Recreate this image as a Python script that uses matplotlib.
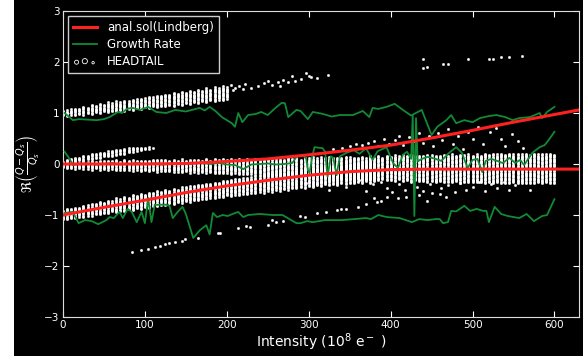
import numpy as np
import matplotlib
matplotlib.use('Agg')
import matplotlib.pyplot as plt

# analytic solution (Lindberg)
lind_x = [0, 50, 100, 150, 200, 250, 300, 350, 400, 450, 500, 550, 600, 630]
lind_mode0 = [0.0, 0.0, 0.0, 0.01, 0.05, 0.1, 0.18, 0.27, 0.37, 0.51, 0.66, 0.82, 0.97, 1.06]
lind_mode1 = [-1.0, -0.85, -0.71, -0.56, -0.43, -0.32, -0.22, -0.15, -0.11, -0.1, -0.1, -0.1, -0.1, -0.1]

# growth rate curves
gr_up_x = [2, 12, 20, 30, 41, 50, 57, 67, 72, 78, 85, 94, 104, 114, 126, 137, 150, 167, 173, 179,
           186, 194, 200, 206, 210, 214, 219, 226, 235, 242, 250, 258, 267, 271, 275, 285, 290, 299,
           305, 315, 322, 328, 338, 354, 366, 374, 378, 385, 395, 405, 415, 425, 438, 450, 457, 468,
           474, 480, 490, 500, 509, 520, 529, 540, 549, 557, 570, 582, 585, 591, 600]
gr_up_y = [1.0, 0.86, 0.88, 0.87, 0.86, 0.88, 0.92, 1.02, 1.0, 1.08, 1.1, 1.06, 1.12, 1.02, 1.0, 1.06,
           1.03, 1.1, 1.05, 1.12, 1.04, 0.92, 0.86, 0.8, 0.73, 1.0, 0.82, 0.96, 0.98, 1.02, 0.96, 1.08,
           1.2, 1.19, 0.92, 1.06, 1.04, 0.88, 1.02, 0.99, 0.96, 0.93, 0.96, 0.96, 1.04, 0.92, 1.1, 1.08,
           1.12, 1.18, 1.06, 0.95, 1.06, 0.57, 0.73, 0.86, 0.96, 0.8, 0.86, 0.82, 0.9, 0.94, 0.96, 0.92,
           0.86, 0.9, 0.92, 1.0, 0.9, 1.02, 1.12]

gr_mid_x = [2, 8, 12, 20, 30, 40, 50, 60, 70, 80, 90, 100, 110, 120, 130, 140, 150, 160, 167, 180,
            190, 200, 210, 220, 230, 240, 250, 260, 270, 280, 285, 293, 297, 299, 301, 304, 307, 317,
            320, 323, 327, 330, 334, 338, 346, 355, 362, 370, 378, 384, 395, 403, 409, 415, 420, 425,
            427, 429, 431, 433, 438, 445, 455, 462, 470, 480, 487, 494, 500, 506, 512, 516, 523, 530,
            537, 545, 552, 558, 563, 573, 582, 588, 592, 600]
gr_mid_y = [0.24, 0.1, -0.02, 0.0, 0.01, -0.01, 0.0, 0.02, -0.01, 0.0, 0.02, 0.0, 0.01, -0.01, 0.0,
            0.01, 0.0, 0.01, 0.02, 0.0, 0.02, -0.01, -0.02, -0.1, -0.01, 0.0, 0.01, -0.01, 0.0, 0.02,
            0.14, 0.18, 0.1, -0.12, -0.18, 0.12, 0.33, 0.31, 0.24, -0.25, 0.15, 0.12, -0.22, 0.15, 0.22,
            0.27, 0.2, 0.31, 0.08, 0.25, 0.33, 0.02, -0.08, 0.18, 0.24, 0.1, 0.95, -1.02, 0.9, 0.05, 0.1,
            0.14, 0.1, 0.06, 0.2, 0.33, 0.22, -0.08, 0.08, 0.1, -0.16, 0.06, 0.1, 0.06, 0.02, 0.12, 0.02,
            0.08, -0.02, 0.22, 0.33, 0.37, 0.45, 0.63]

gr_low_x = [2, 12, 19, 27, 35, 43, 53, 57, 62, 69, 73, 79, 84, 90, 96, 100, 104, 108, 112, 120, 126,
            130, 134, 140, 146, 150, 159, 167, 175, 179, 183, 188, 195, 201, 207, 214, 220, 226, 240,
            256, 268, 285, 290, 298, 305, 320, 340, 356, 370, 376, 385, 395, 411, 426, 435, 445, 455,
            460, 464, 470, 474, 480, 490, 497, 505, 513, 517, 520, 527, 535, 543, 557, 566, 575, 585,
            591, 600]
gr_low_y = [-0.96, -0.94, -1.16, -1.1, -1.12, -1.18, -1.1, -1.04, -1.06, -0.94, -1.06, -0.88, -0.94,
            -1.14, -0.94, -1.16, -0.67, -1.14, -0.8, -0.8, -0.8, -0.82, -1.06, -0.94, -0.84, -0.98,
            -1.45, -1.3, -1.2, -1.38, -0.96, -1.04, -1.0, -1.02, -0.98, -0.94, -1.04, -1.0, -0.98, -1.0,
            -1.0, -1.16, -1.16, -1.12, -1.14, -1.1, -1.1, -1.08, -1.06, -1.08, -1.0, -1.04, -1.06, -1.14,
            -1.08, -1.1, -1.08, -1.08, -1.16, -1.14, -0.92, -0.93, -0.82, -0.92, -0.88, -0.92, -0.92,
            -1.14, -0.84, -0.98, -1.02, -1.06, -0.98, -1.12, -1.02, -1.0, -0.69]

# HEADTAIL tunes: dense columns (centre and half height per intensity step)
mid_x = list(range(0, 601, 5))
mid_c = [-0.01, -0.01, -0.02, -0.01, -0.02, -0.01, -0.02, -0.02, -0.01, -0.02, -0.02, -0.02, -0.01,
         -0.02, -0.03, -0.02, -0.02, -0.03, -0.02, -0.03, -0.03,
         -0.03, -0.02, -0.03, -0.03, -0.02, -0.03, -0.03, -0.04, -0.03, -0.03, -0.04, -0.03, -0.04,
         -0.04, -0.03, -0.04, -0.04, -0.05, -0.04, -0.04,
         -0.05, -0.04, -0.05, -0.05, -0.04, -0.05, -0.05, -0.06, -0.05, -0.05, -0.06, -0.05, -0.06,
         -0.06, -0.05, -0.06, -0.06, -0.07, -0.06, -0.06,
         -0.07, -0.06, -0.07, -0.07, -0.06, -0.07, -0.07, -0.08, -0.07, -0.07, -0.08, -0.07, -0.08,
         -0.08, -0.07, -0.08, -0.08, -0.08, -0.07, -0.08,
         -0.08, -0.07, -0.08, -0.08, -0.07, -0.08, -0.08, -0.09, -0.08, -0.08, -0.09, -0.08, -0.08,
         -0.09, -0.08, -0.08, -0.09, -0.08, -0.08, -0.09,
         -0.08, -0.09, -0.08, -0.08, -0.09, -0.08, -0.08, -0.09, -0.08, -0.08, -0.09, -0.08, -0.08,
         -0.09, -0.08, -0.08, -0.09, -0.08, -0.08, -0.09]
mid_hw = [0.05, 0.07, 0.06, 0.08, 0.06, 0.08, 0.07, 0.09, 0.07, 0.09, 0.08, 0.09, 0.08, 0.10, 0.08,
          0.10, 0.09, 0.10, 0.09, 0.11, 0.09,
          0.11, 0.10, 0.12, 0.10, 0.12, 0.11, 0.12, 0.11, 0.13, 0.11, 0.13, 0.12, 0.13, 0.12, 0.14,
          0.12, 0.14, 0.13, 0.14, 0.13,
          0.15, 0.13, 0.15, 0.14, 0.16, 0.14, 0.16, 0.15, 0.17, 0.15, 0.17, 0.16, 0.18, 0.16, 0.18,
          0.17, 0.19, 0.17, 0.19, 0.18,
          0.20, 0.18, 0.20, 0.19, 0.21, 0.19, 0.21, 0.20, 0.22, 0.20, 0.22, 0.21, 0.23, 0.21, 0.23,
          0.22, 0.24, 0.22, 0.24, 0.23,
          0.25, 0.23, 0.25, 0.24, 0.26, 0.24, 0.26, 0.25, 0.27, 0.25, 0.27, 0.26, 0.27, 0.26, 0.28,
          0.26, 0.28, 0.27, 0.28, 0.27,
          0.28, 0.27, 0.29, 0.27, 0.29, 0.28, 0.29, 0.28, 0.29, 0.28, 0.29, 0.28, 0.29, 0.28, 0.29,
          0.28, 0.29, 0.28, 0.29, 0.28]

low_x = list(range(0, 381, 5))
low_c = [-1.00, -0.98, -0.97, -0.95, -0.94, -0.92, -0.91, -0.89, -0.88, -0.86, -0.85, -0.84, -0.82,
         -0.81, -0.80, -0.78, -0.77, -0.76, -0.74, -0.73, -0.72,
         -0.71, -0.69, -0.68, -0.67, -0.65, -0.64, -0.63, -0.62, -0.60, -0.59, -0.58, -0.57, -0.55,
         -0.54, -0.53, -0.52, -0.51, -0.50, -0.48, -0.47,
         -0.46, -0.45, -0.44, -0.43, -0.42, -0.41, -0.40, -0.39, -0.38, -0.37, -0.36, -0.35, -0.34,
         -0.33, -0.32, -0.31, -0.30, -0.29, -0.28, -0.27,
         -0.26, -0.25, -0.24, -0.23, -0.22, -0.22, -0.21, -0.20, -0.19, -0.19, -0.18, -0.17, -0.17,
         -0.16, -0.16, -0.15]
low_hw = [0.08, 0.10, 0.09, 0.11, 0.09, 0.12, 0.10, 0.12, 0.10, 0.13, 0.11, 0.13, 0.11, 0.14, 0.12,
          0.14, 0.12, 0.15, 0.13, 0.15, 0.13,
          0.15, 0.13, 0.15, 0.13, 0.15, 0.13, 0.16, 0.13, 0.16, 0.14, 0.16, 0.14, 0.16, 0.14, 0.16,
          0.14, 0.16, 0.14, 0.17, 0.14,
          0.17, 0.15, 0.17, 0.15, 0.17, 0.15, 0.17, 0.15, 0.18, 0.15, 0.18, 0.15, 0.18, 0.16, 0.18,
          0.16, 0.18, 0.16, 0.19, 0.16,
          0.19, 0.17, 0.19, 0.17, 0.19, 0.17, 0.20, 0.17, 0.20, 0.18, 0.20, 0.18, 0.20, 0.18, 0.21,
          0.18]

up_x = list(range(0, 201, 5))
up_c = [1.00, 1.01, 1.02, 1.03, 1.04, 1.05, 1.06, 1.07, 1.08, 1.09, 1.10, 1.11, 1.12, 1.13, 1.14,
        1.15, 1.16, 1.17, 1.18, 1.19, 1.20, 1.21, 1.22, 1.23, 1.24, 1.25, 1.26, 1.27, 1.28, 1.29,
        1.30, 1.31, 1.32, 1.33, 1.34, 1.35, 1.36, 1.37, 1.38, 1.39, 1.40]
up_hw = [0.04, 0.06, 0.05, 0.07, 0.06, 0.08, 0.06, 0.09, 0.07, 0.09, 0.07, 0.10, 0.08, 0.10, 0.08,
         0.11, 0.08, 0.11, 0.09, 0.11, 0.09, 0.12, 0.09, 0.12, 0.10, 0.12, 0.10, 0.13, 0.10, 0.13,
         0.10, 0.13, 0.11, 0.13, 0.11, 0.14, 0.11, 0.14, 0.12, 0.14, 0.12]

rise_x = list(range(5, 111, 5))
rise_c = [0.06, 0.08, 0.09, 0.10, 0.12, 0.13, 0.15, 0.16, 0.17, 0.19, 0.20, 0.21, 0.23, 0.24, 0.25,
          0.27, 0.28, 0.29, 0.30, 0.31, 0.32, 0.33]
rise_hw = [0.03, 0.03, 0.04, 0.03, 0.04, 0.04, 0.05, 0.04, 0.05, 0.04, 0.05, 0.05, 0.05, 0.04, 0.05,
           0.04, 0.04, 0.03, 0.03, 0.02, 0.02, 0.01]

# HEADTAIL tunes: isolated points
pts_x = [205, 207, 210, 215, 220, 222, 230, 238, 245, 250, 255, 262, 265, 268, 275, 280, 283, 290,
         297, 300, 303, 310, 323, 439, 439, 445, 464, 470, 494, 520, 525, 535, 545, 560,
         84, 95, 104, 112, 118, 124, 130, 137, 145, 149, 165, 189, 192, 214, 224, 228, 250, 255, 260,
         268, 289, 295, 310, 321, 334, 340, 346, 360, 370, 380, 383, 388, 395, 409, 419, 435, 445,
         451, 460, 468,
         330, 341, 350, 358, 365, 372, 380, 385, 392, 398, 405, 410, 415, 422, 428, 435, 440, 447,
         452, 458, 463, 470, 476, 482, 488, 495, 500, 507, 513, 521, 529, 535, 540, 548, 555, 562,
         250, 255, 265, 275, 285, 297, 305, 315, 325, 335, 345, 355, 362, 370, 378, 388, 395, 402,
         410, 418, 425, 432, 440, 448, 455, 462, 470, 478, 485, 492, 500, 508, 515, 522, 530, 538,
         545, 552, 560, 570]
pts_y = [1.55, 1.45, 1.5, 1.52, 1.48, 1.56, 1.5, 1.52, 1.58, 1.62, 1.55, 1.6, 1.52, 1.64, 1.6,
         1.72, 1.62, 1.66, 1.78, 1.72, 1.7, 1.69, 1.75, 2.06, 1.88, 1.9, 1.96, 1.96, 2.06, 2.06,
         2.06, 2.1, 2.1, 2.12,
         -1.72, -1.69, -1.66, -1.63, -1.61, -1.57, -1.55, -1.53, -1.5, -1.48, -1.45, -1.36, -1.35,
         -1.25, -1.22, -1.24, -1.2, -1.1, -1.13, -1.12, -1.02, -1.03, -0.96, -0.94, -0.9, -0.89,
         -0.88, -0.84, -0.78, -0.67, -0.75, -0.72, -0.65, -0.67, -0.64, -0.61, -0.72, -0.56, -0.58,
         -0.64,
         0.3, 0.31, 0.35, 0.4, 0.37, 0.42, 0.45, 0.35, 0.5, 0.4, 0.47, 0.55, 0.38, 0.52, 0.45, 0.6,
         0.42, 0.55, 0.35, 0.6, 0.48, 0.68, 0.4, 0.55, 0.3, 0.62, 0.5, 0.72, 0.4, 0.63, 0.7, 0.5,
         0.36, 0.58, 0.45, 0.32,
         -0.45, -0.49, -0.47, -0.43, -0.4, -0.37, -0.42, -0.35, -0.5, -0.38, -0.45, -0.33, -0.31,
         -0.52, -0.4, -0.35, -0.47, -0.55, -0.4, -0.5, -0.35, -0.45, -0.52, -0.4, -0.33, -0.48,
         -0.42, -0.55, -0.38, -0.5, -0.45, -0.36, -0.52, -0.4, -0.47, -0.36, -0.5, -0.42, -0.38,
         -0.5]


def columns(xs, cs, hws, step=0.025):
    px, py = [], []
    for x, c, h in zip(xs, cs, hws):
        ys = np.arange(c - h, c + h + 1e-9, step)
        px.extend([x] * len(ys))
        py.extend(ys)
    return px, py


fig = plt.figure(figsize=(5.83, 3.56), dpi=100, facecolor='black')
fig.patches.append(plt.Rectangle((0, 0), 14 / 583, 1, transform=fig.transFigure,
                                 facecolor='white', edgecolor='none', zorder=-1))
ax = fig.add_axes([63 / 583, 1 - 317 / 356, 516 / 583, 306 / 356])
ax.set_facecolor('black')

mk = dict(ls='none', marker='o', ms=1.6, mfc='white', mec='white', mew=0.4, zorder=2)
for xs, cs, hws in [(mid_x, mid_c, mid_hw), (low_x, low_c, low_hw),
                    (up_x, up_c, up_hw), (rise_x, rise_c, rise_hw)]:
    px, py = columns(xs, cs, hws)
    ax.plot(px, py, **mk)
ax.plot(pts_x, pts_y, **mk)

ax.plot(gr_up_x, gr_up_y, color='#118a35', lw=1.3, zorder=3, label='Growth Rate')
ax.plot(gr_mid_x, gr_mid_y, color='#118a35', lw=1.3, zorder=3)
ax.plot(gr_low_x, gr_low_y, color='#118a35', lw=1.3, zorder=3)

ax.plot(lind_x, lind_mode0, color='#ff2020', lw=2.2, zorder=4, label='anal.sol(Lindberg)')
ax.plot(lind_x, lind_mode1, color='#ff2020', lw=2.2, zorder=4)

# legend-only handle for the HEADTAIL points
ax.scatter([np.nan, np.nan], [np.nan, np.nan], s=[3, 14], facecolors='none',
           edgecolors='white', linewidths=0.6, label='HEADTAIL')

ax.set_xlim(0, 630)
ax.set_ylim(-3, 3)
ax.set_xticks([0, 100, 200, 300, 400, 500, 600])
ax.set_yticks([-3, -2, -1, 0, 1, 2, 3])
for sp in ax.spines.values():
    sp.set_color('#dddddd')
ax.tick_params(colors='white', direction='in', top=True, right=True, labelsize=7.5, length=4,
               pad=2.5)
ax.set_xlabel('Intensity (10$^8$ e$^-$ )', color='white', fontsize=10, labelpad=1)
ax.set_ylabel(r'$\Re\left(\frac{Q-Q_s}{Q_s}\right)$', color='white', fontsize=10, labelpad=2)

h, l = ax.get_legend_handles_labels()
order = [l.index('anal.sol(Lindberg)'), l.index('Growth Rate'), l.index('HEADTAIL')]
leg = ax.legend([h[i] for i in order], [l[i] for i in order], loc='upper left', fontsize=8.5,
                scatterpoints=3, facecolor='black', edgecolor='#cccccc', framealpha=1,
                fancybox=False, labelcolor='white', borderaxespad=0.45, handletextpad=0.9,
                labelspacing=0.35)
leg.get_frame().set_linewidth(1.0)

fig.savefig('out.png', dpi=100, facecolor=fig.get_facecolor())
